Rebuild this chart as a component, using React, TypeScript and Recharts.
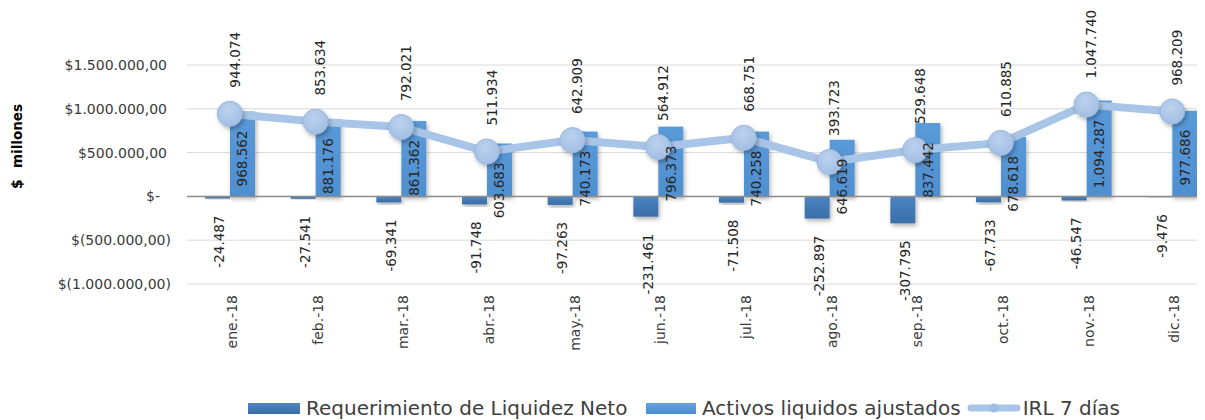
import React from 'react';
import {
  ComposedChart,
  Bar,
  Line,
  XAxis,
  YAxis,
  CartesianGrid,
  ReferenceLine,
  Legend,
  LabelList,
} from 'recharts';

const months = ['ene.-18', 'feb.-18', 'mar.-18', 'abr.-18', 'may.-18', 'jun.-18', 'jul.-18', 'ago.-18', 'sep.-18', 'oct.-18', 'nov.-18', 'dic.-18'];
const requerimiento = [-24487, -27541, -69341, -91748, -97263, -231461, -71508, -252897, -307795, -67733, -46547, -9476];
const activos = [968562, 881176, 861362, 603683, 740173, 796373, 740258, 646619, 837442, 678618, 1094287, 977686];
const irl = [944074, 853634, 792021, 511934, 642909, 564912, 668751, 393723, 529648, 610885, 1047740, 968209];
const yTicks = [-1000000, -500000, 0, 500000, 1000000, 1500000];
const seriesNames = ['Requerimiento de Liquidez Neto', 'Activos liquidos ajustados', 'IRL 7 días'];
const yAxisTitle = ['$', 'millones'];

const data = months.map((m, i) => ({
  month: m,
  req: requerimiento[i],
  act: activos[i],
  irl: irl[i],
}));

const FONT = '"DejaVu Sans", sans-serif';
const LABEL_COLOR = '#262626';
const TICK_COLOR = '#3a3a3a';

const groupDots = (n: number) => Math.abs(Math.round(n)).toString().replace(/\B(?=(\d{3})+(?!\d))/g, '.');
const fmtLabel = (v: number) => (v < 0 ? '-' : '') + groupDots(v);
const fmtTick = (v: number) => {
  if (v === 0) return '$-';
  if (v > 0) return '$' + groupDots(v) + ',00';
  return '$(' + groupDots(v) + ',00)';
};

const YTick = (props: any) => {
  const { x, y, payload } = props;
  const v = payload.value as number;
  const shift = v === 0 ? -27 : v > 0 ? -20 : -16;
  return (
    <text x={x + shift} y={y} textAnchor="end" dominantBaseline="central" fontFamily={FONT} fontSize={14} fill={TICK_COLOR}>
      {fmtTick(v)}
    </text>
  );
};

const XTick = (props: any) => {
  const { x, y, payload } = props;
  const tx = x + 2;
  const ty = y + 11;
  return (
    <text x={tx} y={ty} transform={`rotate(-90, ${tx}, ${ty})`} textAnchor="end" dominantBaseline="central" fontFamily={FONT} fontSize={14} fill={TICK_COLOR}>
      {payload.value}
    </text>
  );
};

const makeBarShape = (fillId: string) => (props: any) => {
  const { x, y, width, height } = props;
  if (x == null || y == null) return null;
  const top = Math.min(y, y + height);
  const h = Math.abs(height);
  return <rect x={x} y={top} width={width} height={h} fill={`url(#${fillId})`} filter="url(#dropShadow)" />;
};

const barLabel = (props: any) => {
  const { x, y, width, height, value } = props;
  const cx = x + width / 2;
  const top = Math.min(y, y + height);
  const bottom = Math.max(y, y + height);
  const ty = value >= 0 ? top + 19 : bottom + 17;
  const tx = value >= 0 ? cx : cx + 2;
  return (
    <text x={tx} y={ty} transform={`rotate(-90, ${tx}, ${ty})`} textAnchor="end" dominantBaseline="central" fontFamily={FONT} fontSize={13.5} fill={LABEL_COLOR}>
      {fmtLabel(value)}
    </text>
  );
};

const lineLabel = (props: any) => {
  const { x, y, value } = props;
  const tx = x + 5;
  const ty = y - 26;
  return (
    <text x={tx} y={ty} transform={`rotate(-90, ${tx}, ${ty})`} textAnchor="start" dominantBaseline="central" fontFamily={FONT} fontSize={13.5} fill={LABEL_COLOR}>
      {fmtLabel(value)}
    </text>
  );
};

const IrlDot = (props: any) => {
  const { cx, cy, index } = props;
  if (cx == null || cy == null) return null;
  return <circle key={`dot-${index}`} cx={cx} cy={cy} r={12.5} fill="url(#dotGrad)" stroke="#9ab7dd" strokeWidth={1} filter="url(#dropShadow)" />;
};

const YTitle = (props: any) => {
  const vb = props.viewBox || { x: 0, y: 0, width: 0, height: 0 };
  const x = vb.x + 9;
  const y1 = vb.y + 119;
  const y2 = vb.y + 71;
  return (
    <g>
      <text x={x} y={y1} transform={`rotate(-90, ${x}, ${y1})`} textAnchor="middle" dominantBaseline="central" fontFamily={FONT} fontSize={14} fontWeight="bold" fill="#000">
        {yAxisTitle[0]}
      </text>
      <text x={x} y={y2} transform={`rotate(-90, ${x}, ${y2})`} textAnchor="middle" dominantBaseline="central" fontFamily={FONT} fontSize={13.5} fontWeight="bold" fill="#000">
        {yAxisTitle[1]}
      </text>
    </g>
  );
};

const LegendContent = () => {
  const textStyle: React.CSSProperties = { fontFamily: FONT, fontSize: 20, color: '#404040', whiteSpace: 'nowrap', lineHeight: '20px' };
  return (
    <div style={{ display: 'flex', alignItems: 'center', height: 20 }}>
      <div style={{ width: 52, height: 11, background: 'linear-gradient(#4f87c4, #3a6da6)', marginRight: 6, flex: 'none' }} />
      <span style={{ ...textStyle, width: 330, flex: 'none' }}>{seriesNames[0]}</span>
      <div style={{ width: 50, height: 11, background: 'linear-gradient(#66a3de, #4a8bcf)', marginLeft: 10, marginRight: 6, flex: 'none' }} />
      <span style={{ ...textStyle, flex: 'none' }}>{seriesNames[1]}</span>
      <svg width={54} height={20} style={{ marginLeft: 6, marginRight: 2, flex: 'none' }}>
        <line x1={4} y1={10} x2={50} y2={10} stroke="#a8c4e7" strokeWidth={7} strokeLinecap="round" />
        <circle cx={27} cy={10} r={4.5} fill="#9fbde3" />
      </svg>
      <span style={textStyle}>{seriesNames[2]}</span>
    </div>
  );
};

export default function App() {
  return (
    <div style={{ width: 1197, height: 412, overflow: 'hidden', position: 'relative' }}>
      <ComposedChart
        width={1230}
        height={412}
        data={data}
        margin={{ top: 57, right: 23, bottom: 0, left: 0 }}
        barGap={0}
        barSize={25}
      >
        <defs>
          <linearGradient id="gradReq" x1="0" y1="0" x2="0" y2="1">
            <stop offset="0%" stopColor="#4a84c2" />
            <stop offset="100%" stopColor="#3a6ea7" />
          </linearGradient>
          <linearGradient id="gradAct" x1="0" y1="0" x2="0" y2="1">
            <stop offset="0%" stopColor="#5a9ad9" />
            <stop offset="100%" stopColor="#4f8fd0" />
          </linearGradient>
          <radialGradient id="dotGrad" cx="45%" cy="35%" r="70%">
            <stop offset="0%" stopColor="#bcd2ee" />
            <stop offset="100%" stopColor="#a0bde3" />
          </radialGradient>
          <filter id="dropShadow" x="-30%" y="-30%" width="160%" height="160%">
            <feDropShadow dx="1.5" dy="2.5" stdDeviation="2" floodColor="#000" floodOpacity="0.3" />
          </filter>
        </defs>
        <CartesianGrid vertical={false} stroke="#d9d9d9" strokeWidth={1} />
        <XAxis
          dataKey="month"
          height={136}
          axisLine={false}
          tickLine={false}
          tickSize={0}
          tickMargin={0}
          interval={0}
          tick={<XTick />}
        />
        <YAxis
          width={179}
          domain={[-1000000, 1500000]}
          ticks={yTicks}
          axisLine={false}
          tickLine={false}
          tickSize={0}
          tickMargin={0}
          tick={<YTick />}
          label={{ content: (p: any) => <YTitle {...p} /> }}
        />
        <ReferenceLine y={0} stroke="#8c8c8c" strokeWidth={1.5} />
        <Bar dataKey="req" name={seriesNames[0]} isAnimationActive={false} shape={makeBarShape('gradReq')}>
          <LabelList dataKey="req" content={barLabel} />
        </Bar>
        <Bar dataKey="act" name={seriesNames[1]} isAnimationActive={false} shape={makeBarShape('gradAct')}>
          <LabelList dataKey="act" content={barLabel} />
        </Bar>
        <Line
          dataKey="irl"
          name={seriesNames[2]}
          isAnimationActive={false}
          stroke="#a8c4e7"
          strokeWidth={8}
          strokeLinejoin="round"
          dot={<IrlDot />}
          activeDot={false}
        >
          <LabelList dataKey="irl" content={lineLabel} />
        </Line>
        <Legend
          verticalAlign="middle"
          align="center"
          layout="horizontal"
          content={<LegendContent />}
          wrapperStyle={{ left: 240, top: 390, width: 920, height: 20 }}
        />
      </ComposedChart>
    </div>
  );
}
